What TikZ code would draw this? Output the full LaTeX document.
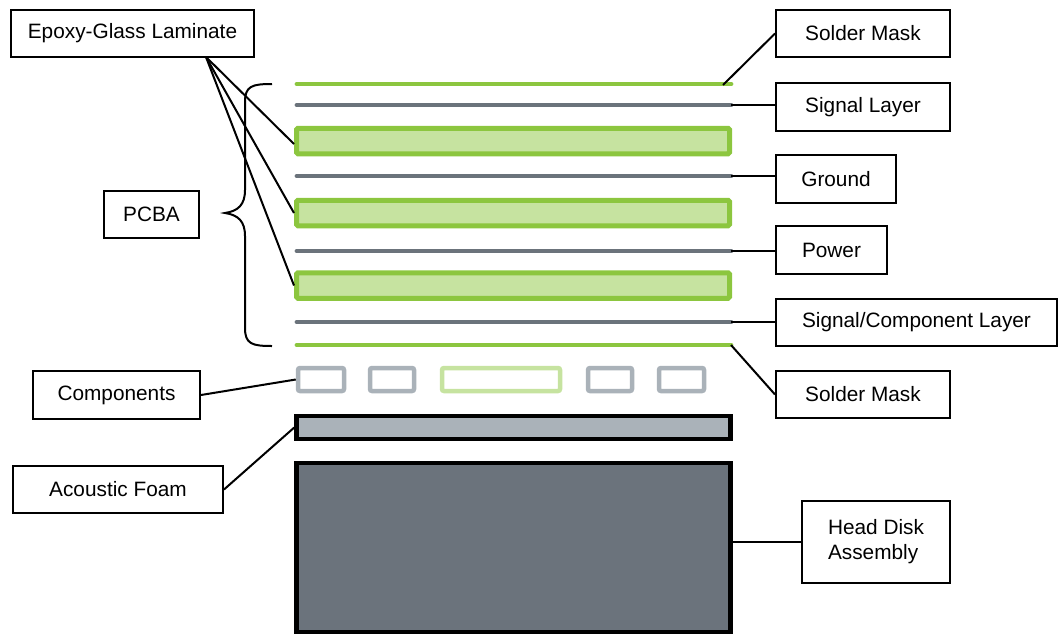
\documentclass[tikz,border=0pt]{standalone}
\usepackage{fontspec}
\setmainfont{Liberation Sans}
\definecolor{lgreen}{HTML}{8CC63F}
\definecolor{pgreen}{HTML}{C6E3A0}
\definecolor{lgray}{HTML}{6B737B}
\definecolor{cgray}{HTML}{AAB2B9}
\definecolor{hdagray}{HTML}{6B737C}
\begin{document}
\begin{tikzpicture}[x=1pt,y=-1pt,
  lbl/.style={draw=black,line width=2pt,fill=white,minimum height=47pt,inner sep=0pt,
    font=\fontsize{20.8}{25}\selectfont},
  lam/.style={draw=lgreen,fill=pgreen,line width=5pt,rounded corners=1.5pt,
    minimum width=433pt,minimum height=25.5pt,inner sep=0pt},
  gline/.style={draw=lgreen,line width=4.8pt,line cap=round},
  sline/.style={draw=lgray,line width=4.8pt,line cap=round},
  comp/.style={draw=cgray,line width=4.5pt,rounded corners=2pt,minimum height=23pt,inner sep=0pt},
  blk/.style={draw=black,line width=4.5pt,inner sep=0pt,minimum width=434pt},
  con/.style={draw=black,line width=2pt}]
\useasboundingbox (0,0) rectangle (1058,635);

% layers
\coordinate (sm1a) at (297,84);  \coordinate (sm1b) at (731,84);
\coordinate (sga) at (297,105);  \coordinate (sgb) at (731,105);
\coordinate (gna) at (297,176);  \coordinate (gnb) at (731,176);
\coordinate (pwa) at (297,251);  \coordinate (pwb) at (731,251);
\coordinate (sca) at (297,322);  \coordinate (scb) at (731,322);
\coordinate (sm2a) at (297,345); \coordinate (sm2b) at (731,345);
\draw[gline] (sm1a) -- (sm1b);
\draw[sline] (sga) -- (sgb);
\draw[sline] (gna) -- (gnb);
\draw[sline] (pwa) -- (pwb);
\draw[sline] (sca) -- (scb);
\draw[gline] (sm2a) -- (sm2b);
\node[lam] (lam1) at (513,141) {};
\node[lam] (lam2) at (513,213) {};
\node[lam] (lam3) at (513,285.5) {};

% components
\node[comp,minimum width=46pt] (c1) at (321,379.5) {};
\node[comp,minimum width=44pt] (c2) at (392,379.5) {};
\node[comp,draw=pgreen,minimum width=118pt] (c3) at (501,379.5) {};
\node[comp,minimum width=44pt] (c4) at (610,379.5) {};
\node[comp,minimum width=45pt] (c5) at (681.5,379.5) {};

% foam and HDA
\node[blk,fill=cgray,minimum height=23pt] (foamr) at (513.5,427.5) {};
\node[blk,fill=hdagray,minimum height=169pt] (hdar) at (513.5,547.5) {};

% brace
\draw[line width=2pt] (272,84) .. controls (252,84) and (245,86) .. (245,102)
  -- (245,190) .. controls (245,205) and (238,211) .. (225,213)
  .. controls (238,215) and (245,221) .. (245,236)
  -- (245,328) .. controls (245,344) and (252,346) .. (272,346);

% labels
\node[lbl,minimum width=243pt] (epoxy) at (132.5,33.5) {Epoxy-Glass Laminate};
\node[lbl,minimum width=174pt] (sm1) at (863,33.5) {Solder Mask};
\node[lbl,minimum width=174pt,minimum height=48pt] (sig) at (863,107) {Signal Layer};
\node[lbl,minimum width=120pt,minimum height=48pt] (gnd) at (836,179) {Ground};
\node[lbl,minimum width=111pt,minimum height=48pt] (pwr) at (831.5,250) {Power};
\node[lbl,minimum width=281pt] (sigc) at (916.5,322.5) {Signal/Component Layer};
\node[lbl,minimum width=174pt] (sm2) at (863,394.5) {Solder Mask};
\node[lbl,minimum width=95pt] (pcba) at (151.5,214.5) {PCBA};
\node[lbl,minimum width=167pt,minimum height=48pt] (compl) at (116.5,395) {Components};
\node[lbl,minimum width=210pt] (foam) at (118,489.5) {Acoustic Foam};
\node[lbl,minimum width=148pt,minimum height=82pt,align=left] (hda) at (876,542) {Head Disk\\Assembly};

% connectors
\coordinate (ep) at (206,57);
\draw[con] (ep) -- ([yshift=-3pt]lam1.west);
\draw[con] (ep) -- (lam2.west);
\draw[con] (ep) -- (lam3.west);
\draw[con] (sm1.west) -- ([xshift=-8pt,yshift=-1pt]sm1b);
\draw[con] (sgb) -- (sgb -| sig.west);
\draw[con] (gnb) -- (gnb -| gnd.west);
\draw[con] (pwb) -- (pwb -| pwr.west);
\draw[con] (scb) -- (scb -| sigc.west);
\draw[con] (sm2b) -- (sm2.west);
\draw[con] (compl.east) -- (c1.west);
\draw[con] (foam.east) -- (foamr.west);
\draw[con] (hda.west -| hdar.east) -- (hda.west);
\end{tikzpicture}
\end{document}
